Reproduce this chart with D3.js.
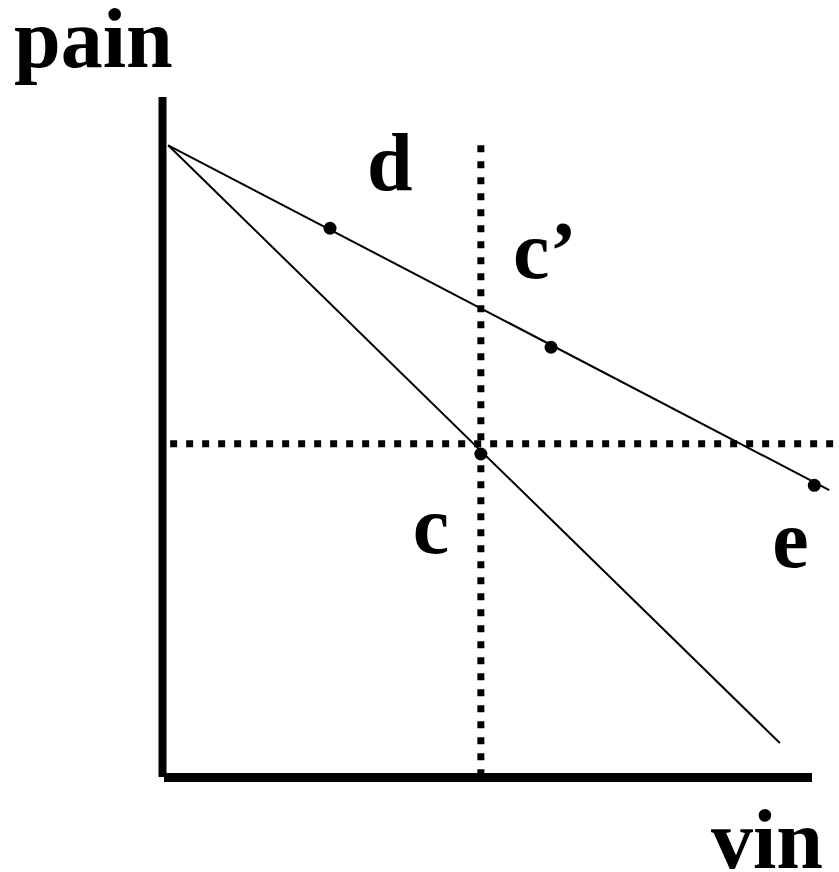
<!DOCTYPE html>
<html>
<head>
<meta charset="utf-8">
<script src="https://cdn.jsdelivr.net/npm/d3@7"></script>
<style>
  html, body { margin: 0; padding: 0; background: #fff; }
  svg { display: block; }
  .lbl { font-family: "Liberation Serif", "Times New Roman", serif; font-weight: bold; fill: #000; }
</style>
</head>
<body>
<script>
"use strict";

// chart values in abstract units (vin on x, pain on y)
const startPoint = { x: 0.08, y: 9.29 };
const steepEnd = { x: 9.49, y: 0.5 };
const shallowEnd = { x: 10.25, y: 4.22 };

const points = [
  { name: 'd', x: 2.57, y: 8.07 },
  { name: "c\u2019", x: 5.97, y: 6.32 },
  { name: 'c', x: 4.89, y: 4.75 },
  { name: 'e', x: 10.02, y: 4.29 }
];

const guideX = 4.89;   // vertical dotted line
const guideY = 4.90;   // horizontal dotted line
const axisLabels = { x: 'vin', y: 'pain' };

const width = 839;
const height = 872;

const x = d3.scaleLinear().domain([0, 10]).range([163, 813]);
const y = d3.scaleLinear().domain([0, 10]).range([777, 97]);

const svg = d3.select('body').append('svg')
  .attr('width', width)
  .attr('height', height);

// dotted guides
svg.append('line')
  .attr('x1', x(guideX)).attr('x2', x(guideX))
  .attr('y1', y(startPoint.y)).attr('y2', y(0))
  .attr('stroke', '#000').attr('stroke-width', 7)
  .attr('stroke-dasharray', '7,9');

svg.append('line')
  .attr('x1', x(0.11)).attr('x2', width)
  .attr('y1', y(guideY)).attr('y2', y(guideY))
  .attr('stroke', '#000').attr('stroke-width', 7)
  .attr('stroke-dasharray', '7,9');

// the two lines from the common start
let line = d3.line().x((d) => x(d.x)).y((d) => y(d.y));
[[startPoint, steepEnd], [startPoint, shallowEnd]].forEach((seg) => {
  svg.append('path')
    .attr('d', line(seg))
    .attr('fill', 'none')
    .attr('stroke', '#000')
    .attr('stroke-width', 2);
});

// axes (thick black)
svg.append('line')
  .attr('x1', x(0) - 0.5).attr('x2', x(0) - 0.5)
  .attr('y1', y(10)).attr('y2', y(0))
  .attr('stroke', '#000').attr('stroke-width', 8);

svg.append('line')
  .attr('x1', x(0) + 1).attr('x2', x(10) - 1)
  .attr('y1', y(0) + 0.5).attr('y2', y(0) + 0.5)
  .attr('stroke', '#000').attr('stroke-width', 9);

// points
svg.selectAll('circle.pt')
  .data(points)
  .enter().append('circle')
  .attr('class', 'pt')
  .attr('cx', (d) => x(d.x))
  .attr('cy', (d) => y(d.y))
  .attr('r', 6.5)
  .attr('fill', '#000');

// point labels, offset from their points
const labelOffsets = {
  'd': [37, -38],
  "c\u2019": [-38, -69],
  'c': [-68, 99],
  'e': [-42, 82]
};
svg.selectAll('text.pt')
  .data(points)
  .enter().append('text')
  .attr('class', 'lbl')
  .attr('x', (d) => x(d.x) + labelOffsets[d.name][0])
  .attr('y', (d) => y(d.y) + labelOffsets[d.name][1])
  .style('font-size', '82px')
  .text((d) => d.name);

// axis titles
svg.append('text')
  .attr('class', 'lbl')
  .attr('x', 14).attr('y', 67)
  .style('font-size', '84px')
  .text(axisLabels.y);

svg.append('text')
  .attr('class', 'lbl')
  .attr('x', 711).attr('y', 868)
  .style('font-size', '84px')
  .text(axisLabels.x);
</script>
</body>
</html>
